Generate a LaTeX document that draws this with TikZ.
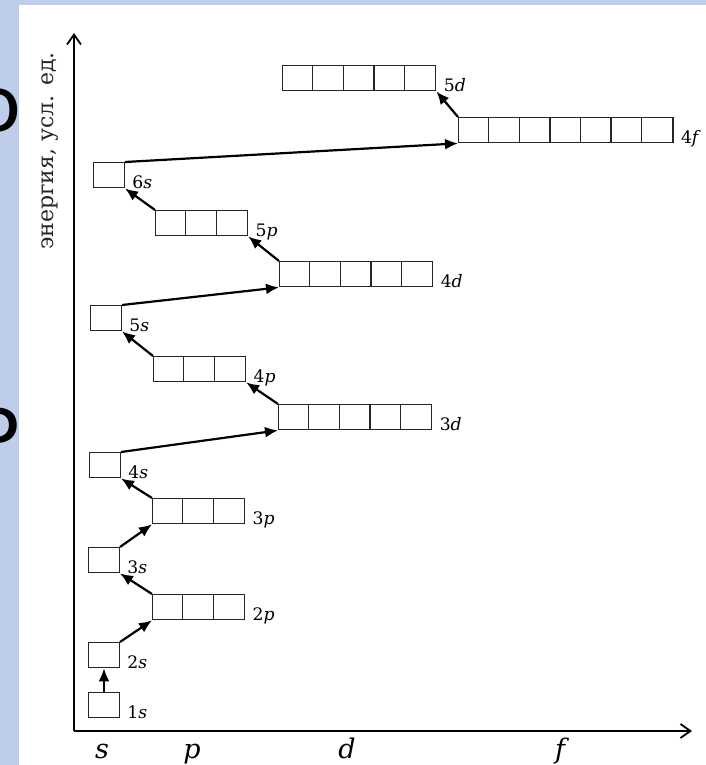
\documentclass[tikz,border=0pt]{standalone}
\usepackage{fontspec}
\setmainfont{DejaVu Serif}
\newfontfamily\slidefont{Carlito}
\usetikzlibrary{arrows.meta,calc}
\definecolor{slideblue}{RGB}{190,206,234}

% one sublevel: a row of #4 orbital cells, top-left corner at (#2,#3)
\newcommand\orbital[4]{%
  \node[cell, minimum width=#4*15.3pt] (#1) at (#2,#3) {};
  \ifnum#4>1
    \pgfmathtruncatemacro\lastcell{#4-1}%
    \foreach \k in {1,...,\lastcell}
      \draw[cellline] ([xshift=\k*15.3pt]#1.north west) -- ([xshift=\k*15.3pt]#1.south west);
  \fi
}

\begin{document}
\begin{tikzpicture}[x=0.5pt,y=-0.5pt,
  cell/.style={draw=black!85, line width=0.7pt, inner sep=0pt, anchor=north west, minimum height=12.5pt},
  cellline/.style={draw=black!85, line width=0.7pt},
  lvl/.style={font=\fontsize{8.6}{10}\selectfont, anchor=base west, inner sep=0pt},
  fillarrow/.style={line width=1.1pt, -{Latex[length=6.5pt,width=5.5pt]}},
  axisline/.style={line width=0.9pt, -{Straight Barb[length=5pt,width=7pt]}},
  axlbl/.style={font=\fontsize{13.5}{15}\selectfont\itshape, anchor=base, inner sep=0pt}]

\useasboundingbox (0,0) rectangle (706,765);
\fill[slideblue] (0,0) rectangle (706,765);
\begin{scope}
  \clip (0,0) rectangle (19,765);
  \node[font=\slidefont\fontsize{44}{44}\selectfont, anchor=base west, inner sep=0pt] (slideA) at (-26,132) {о};
  \node[font=\slidefont\fontsize{44}{44}\selectfont, anchor=base west, inner sep=0pt] (slideB) at (-26,464) {Р};
\end{scope}
\fill[white] (19,5) rectangle (706,765);

% axes
\coordinate (O) at (74,731);
\coordinate (ytop) at (74,33);
\coordinate (xend) at (692,731);
\draw[axisline] (O) -- (ytop);
\draw[axisline] (O) -- (xend);
\node[rotate=90, font=\fontsize{11}{12}\selectfont, text=black!85, inner sep=0pt] (ylbl) at (50,151) {энергия, усл. ед.};
\node[axlbl] (ls) at (102,758) {s};
\node[axlbl] (lp) at (192,758) {p};
\node[axlbl] (ld) at (347,758) {d};
\node[axlbl] (lf) at (560,758) {f};

% sublevels
\orbital{o1s}{88}{692}{1}
\orbital{o2s}{88}{642}{1}
\orbital{o2p}{152}{594}{3}
\orbital{o3s}{88}{547}{1}
\orbital{o3p}{152}{498}{3}
\orbital{o4s}{89}{452}{1}
\orbital{o3d}{278}{404}{5}
\orbital{o4p}{153}{356}{3}
\orbital{o5s}{90}{305}{1}
\orbital{o4d}{279}{261}{5}
\orbital{o5p}{155}{210}{3}
\orbital{o6s}{93}{162}{1}
\orbital{o4f}{458}{117}{7}
\orbital{o5d}{282}{65}{5}

% sublevel labels
\foreach \n/\t in {1s/1\textit{s},2s/2\textit{s},3s/3\textit{s},4s/4\textit{s},5s/5\textit{s},6s/6\textit{s},
                   2p/2\textit{p},3p/3\textit{p},4p/4\textit{p},5p/5\textit{p},
                   3d/3\textit{d},4d/4\textit{d},5d/5\textit{d},4f/4\textit{f}}
  \node[lvl] (l\n) at ([xshift=3.5pt]o\n.south east) {\t};

% filling order
\draw[fillarrow] (o1s.north) -- (o2s.south);
\draw[fillarrow] (o2s.north east) -- (o2p.south west);
\draw[fillarrow] (o2p.north west) -- (o3s.south east);
\draw[fillarrow] (o3s.north east) -- (o3p.south west);
\draw[fillarrow] (o3p.north west) -- (o4s.south east);
\draw[fillarrow] (o4s.north east) -- (o3d.south west);
\draw[fillarrow] (o3d.north west) -- (o4p.south east);
\draw[fillarrow] (o4p.north west) -- (o5s.south east);
\draw[fillarrow] (o5s.north east) -- (o4d.south west);
\draw[fillarrow] (o4d.north west) -- (o5p.south east);
\draw[fillarrow] (o5p.north west) -- (o6s.south east);
\draw[fillarrow] (o6s.north east) -- (o4f.south west);
\draw[fillarrow] (o4f.north west) -- (o5d.south east);
\end{tikzpicture}
\end{document}
